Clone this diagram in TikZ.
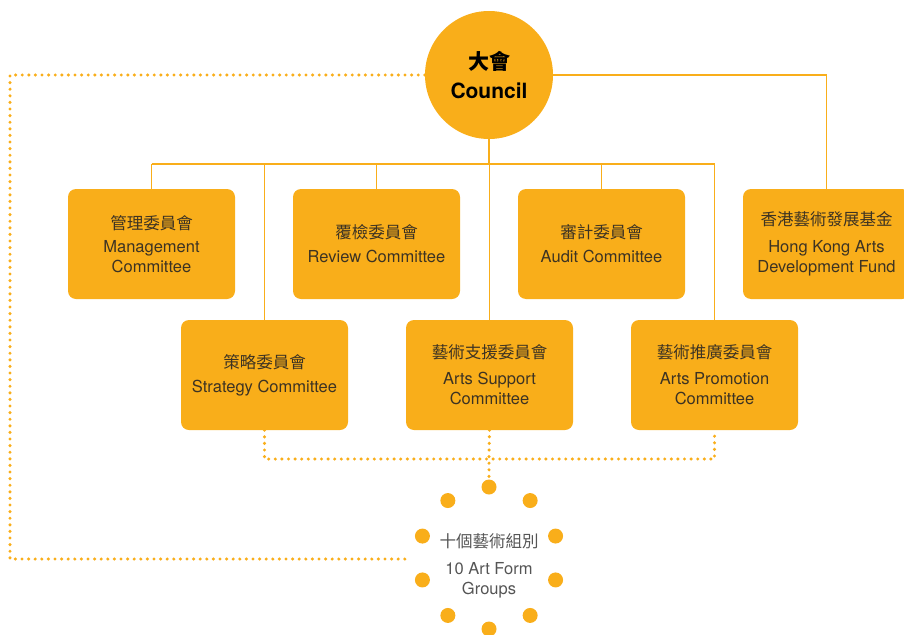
\documentclass[tikz,border=0pt]{standalone}
\usepackage{fontspec}
\setmainfont{TeX Gyre Heros}
\newfontfamily\cjk{Noto Sans CJK TC}
\definecolor{artsorange}{HTML}{F9AE1A}
\definecolor{boxtext}{HTML}{3D3323}
\definecolor{grptext}{HTML}{555555}

\begin{document}
\begin{tikzpicture}[
    x=1pt, y=-1pt,
    link/.style = {draw=artsorange, line width=1.5pt},
    dotline/.style = {draw=artsorange, line width=3.4pt, line cap=round, dash pattern=on 0pt off 6.6pt},
    council/.style = {circle, fill=artsorange, minimum size=128pt, inner sep=0pt, align=center, font=\bfseries\fontsize{21}{29}\selectfont},
    cttee/.style = {rectangle, rounded corners=8pt, fill=artsorange, minimum width=167pt, minimum height=110pt, inner sep=0pt, align=center, text=boxtext, font=\fontsize{16.5}{20}\selectfont},
    spot/.style = {circle, fill=artsorange, minimum size=15pt, inner sep=0pt}
]
    \useasboundingbox (0,0) rectangle (904,634);

    % --- Council ---
    \node[council] (council) at (489,75) {{\cjk 大會}\\Council};

    % --- Top row ---
    \node[cttee] (mgmt)   at (151.5,244) {{\cjk 管理委員會}\\[3pt]Management\\Committee};
    \node[cttee] (review) at (376.5,244) {{\cjk 覆檢委員會}\\[4pt]Review Committee};
    \node[cttee] (audit)  at (601.5,244) {{\cjk 審計委員會}\\[4pt]Audit Committee};
    \node[cttee] (fund)   at (826.5,244) {{\cjk 香港藝術發展基金}\\[7pt]Hong Kong Arts\\Development Fund};

    % --- Bottom row ---
    \node[cttee] (strat)   at (264.5,375) {{\cjk 策略委員會}\\[4pt]Strategy Committee};
    \node[cttee] (support) at (489.5,375) {{\cjk 藝術支援委員會}\\[6pt]Arts Support\\Committee};
    \node[cttee] (promo)   at (714.5,375) {{\cjk 藝術推廣委員會}\\[6pt]Arts Promotion\\Committee};

    % --- Solid links ---
    \coordinate (bus) at (489,164);
    \draw[link] (council) -- (bus);
    \draw[link] (mgmt.north |- bus) -- (promo.north |- bus);
    \foreach \n in {mgmt,review,audit,strat,support,promo}
        \draw[link] (\n.north |- bus) -- (\n.north);
    \draw[link] (council.east) -| (fund.north);

    % --- Art form groups ---
    \foreach \i in {0,...,9}
        \node[spot] (spot\i) at ({489+70*cos(90-36*\i)},{558-71*sin(90-36*\i)}) {};
    \node[align=center, text=grptext, font=\fontsize{16.5}{20}\selectfont] (groups) at (489,566)
        {{\cjk 十個藝術組別}\\[7pt]10 Art Form\\Groups};

    % --- Dotted links ---
    \coordinate (abus) at (489,459);
    \coordinate (farL) at (10,75);
    \coordinate (grpW) at (408,559);
    \draw[dotline] (strat.south) |- (promo.south |- abus) -- (promo.south);
    \draw[dotline] (support.south) -- (abus) -- (spot0.north);
    \draw[dotline] (council.west) -- (farL) |- (grpW);
\end{tikzpicture}
\end{document}
